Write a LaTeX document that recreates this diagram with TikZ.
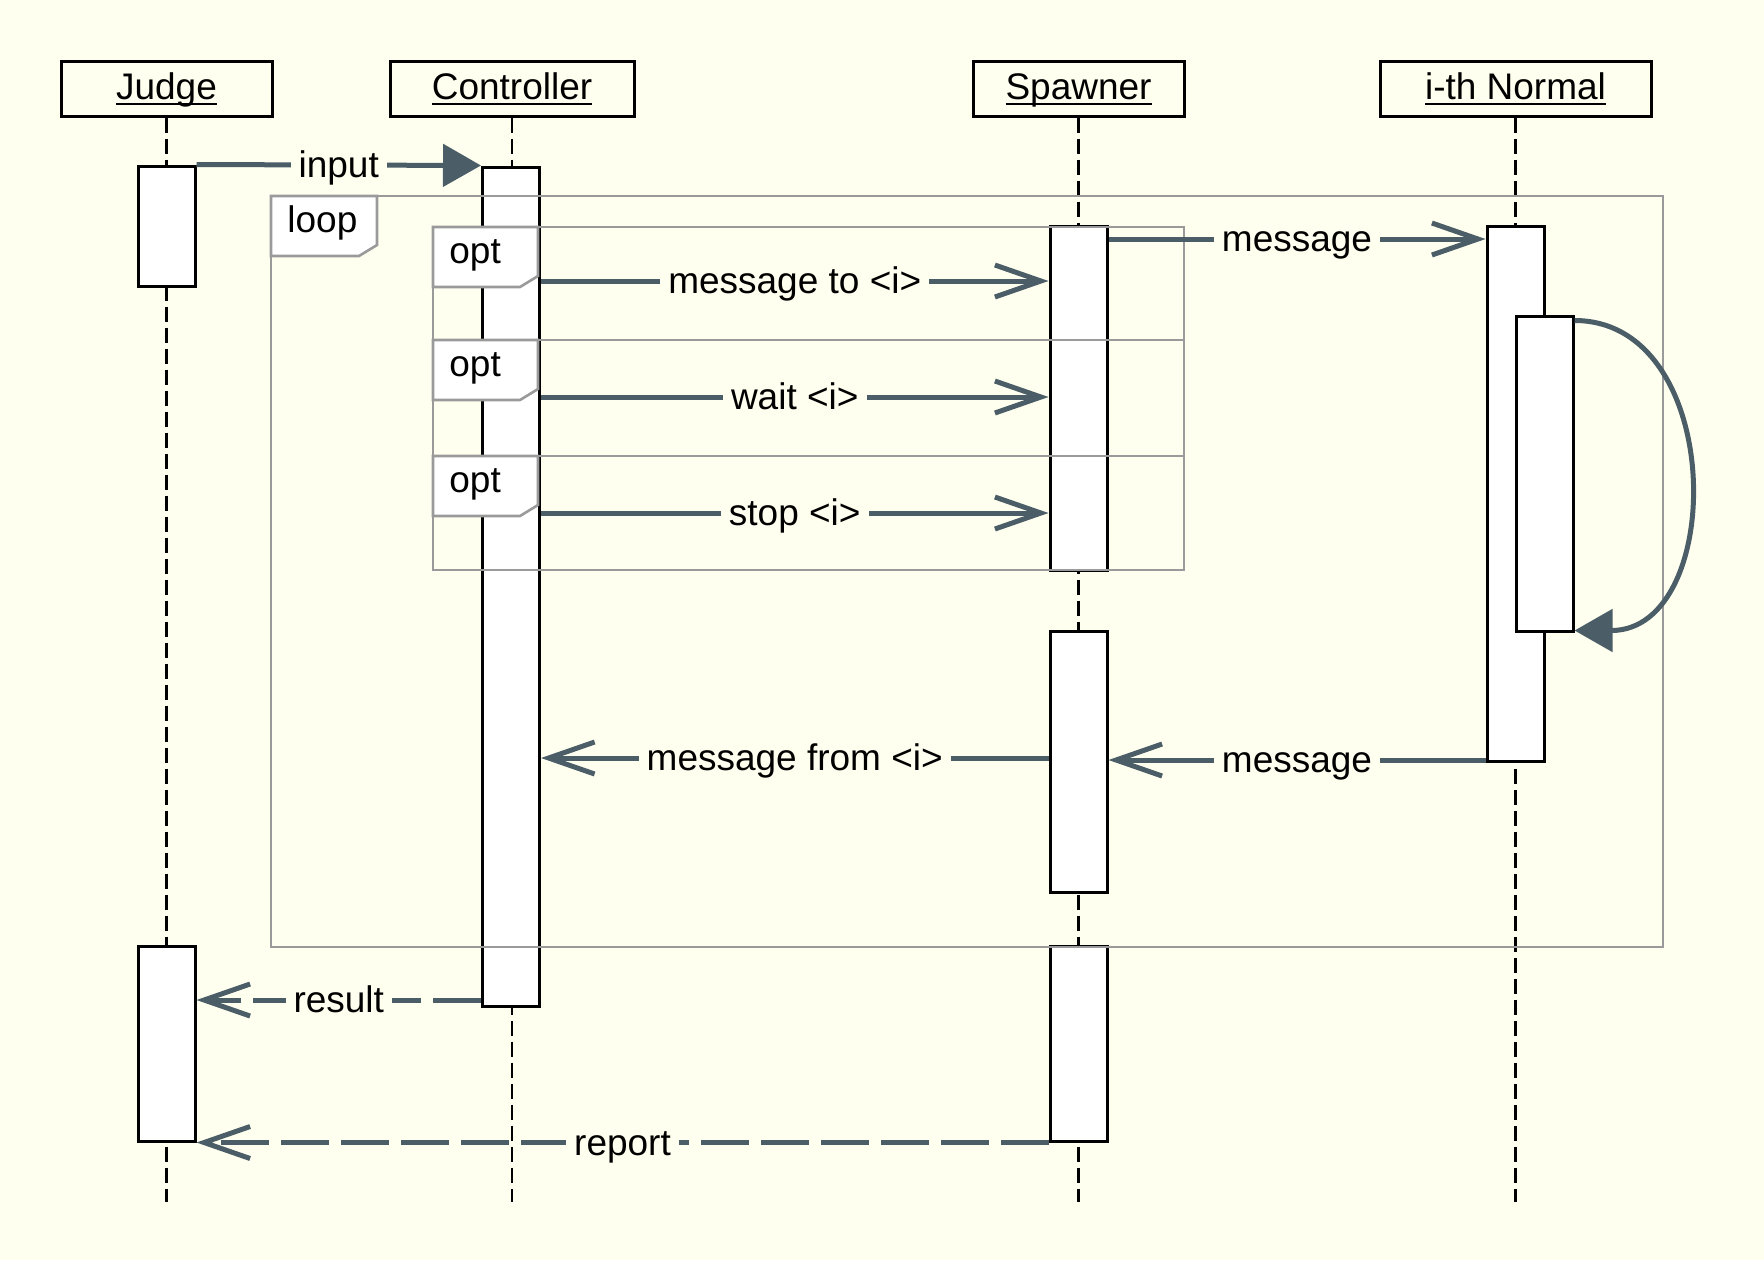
\documentclass[tikz,border=0pt]{standalone}
\usepackage{fontspec}
\setmainfont{Liberation Sans}
\usetikzlibrary{arrows.meta}
\definecolor{bg}{RGB}{255,255,240}
\definecolor{slate}{RGB}{75,94,104}
\definecolor{framegray}{RGB}{154,154,154}
\newcommand{\seqfont}{\fontsize{18.5}{22}\selectfont}
% underline that runs through the descenders, as in the original
\newcommand{\ulabel}[1]{\setbox0\hbox{#1}\rlap{\rule[-0.17em]{\wd0}{0.07em}}\box0}

\begin{document}
\begin{tikzpicture}[x=0.5pt, y=-0.5pt,
	actor/.style={draw=black, line width=1.5pt, minimum height=27.5pt, inner sep=0pt, font=\seqfont, text height=16pt, text depth=5.5pt},
	act/.style={draw=black, fill=white, line width=1.5pt, minimum width=28.5pt, inner sep=0pt},
	lifeline/.style={draw=black, line width=1.1pt, dash pattern=on 7.5pt off 3pt},
	frame/.style={draw=framegray, line width=1.3pt},
	tab/.style={frame, fill=white},
	msg/.style={draw=slate, line width=2.5pt, -{Straight Barb[length=23pt,width=16pt]}},
	reply/.style={msg, dash pattern=on 24pt off 6pt},
	call/.style={draw=slate, line width=2.5pt, -{Triangle[length=19pt,width=21pt]}},
	lbl/.style={fill=bg, inner xsep=4pt, inner ysep=0pt, font=\seqfont, text height=17pt, text depth=4.4pt}]
	\fill[bg] (0,0) rectangle (1764,1260);
	\useasboundingbox (0,0) rectangle (1764,1260);
	% participants
	\node[actor, minimum width=105.5pt] (judge) at (166.5,88.5) {\ulabel{Judge}};
	\node[actor, minimum width=122pt] (ctrl) at (512,88.5) {\ulabel{Controller}};
	\node[actor, minimum width=105.5pt] (spawn) at (1078.5,88.5) {\ulabel{Spawner}};
	\node[actor, minimum width=135.5pt] (normal) at (1515.5,88.5) {\ulabel{i-th Normal}};
	\coordinate (bottom) at (0,1202);
	\draw[lifeline] (judge) -- (judge |- bottom);
	\draw[lifeline] (ctrl) -- (ctrl |- bottom);
	\draw[lifeline] (spawn) -- (spawn |- bottom);
	\draw[lifeline] (normal) -- (normal |- bottom);
	% activations
	\node[act, minimum height=60pt] (jA1) at (166.5,226) {};
	\node[act, minimum height=97.5pt] (jA2) at (166.5,1043.5) {};
	\node[act, minimum height=419.5pt] (cA) at (511,586.5) {};
	\node[act, minimum height=172pt] (sA1) at (1078.5,398) {};
	\node[act, minimum height=130.5pt] (sA2) at (1078.5,761.5) {};
	\node[act, minimum height=97.5pt] (sA3) at (1078.5,1043.5) {};
	\node[act, minimum height=267.5pt] (nA) at (1515.5,493.5) {};
	\node[act, minimum height=157.5pt] (nB) at (1544.5,473.5) {};
	% frames
	\draw[frame] (271,196) rectangle (1663,947);
	\draw[tab] (271,196) -- (377,196) -- (377,245) -- (359,256) -- (271,256) -- cycle;
	\node[font=\seqfont, anchor=base west, inner sep=0pt] (loop) at (287,232) {loop};
	\foreach \ya/\yb [count=\i] in {227/340, 340/456, 456/570} {
		\draw[frame] (433,\ya) rectangle (1184,\yb);
		\draw[tab] (433,\ya) -- (538,\ya) -- (538,\ya+49) -- (520,\ya+60) -- (433,\ya+60) -- cycle;
		\node[font=\seqfont, anchor=base west, inner sep=0pt] (opt\i) at (449,\ya+36) {opt};
	}
	% messages
	\coordinate (lvMsg) at (0,239);
	\coordinate (lvTo) at (0,281);
	\coordinate (lvWait) at (0,397);
	\coordinate (lvStop) at (0,513);
	\coordinate (lvFrom) at (0,758);
	\coordinate (lvBack) at (0,760);
	\coordinate (lvRes) at (0,1000);
	\draw[call] (jA1.north east) -- node[lbl] (input) {input} (cA.north west);
	\draw[msg] (sA1.east |- lvMsg) -- node[lbl] (msgOut) {message} (nA.west |- lvMsg);
	\draw[msg] (cA.east |- lvTo) -- node[lbl] (msgTo) {message to <i>} (sA1.west |- lvTo);
	\draw[msg] (cA.east |- lvWait) -- node[lbl] (wait) {wait <i>} (sA1.west |- lvWait);
	\draw[msg] (cA.east |- lvStop) -- node[lbl] (stop) {stop <i>} (sA1.west |- lvStop);
	\draw[call] ([yshift=-3pt]nB.north east) .. controls +(152,0) and +(152,0) .. ([yshift=1pt]nB.south east);
	\draw[msg] (nA.west |- lvBack) -- node[lbl] (msgBack) {message} (sA2.east |- lvBack);
	\draw[msg] (sA2.west |- lvFrom) -- node[lbl] (msgFrom) {message from <i>} (cA.east |- lvFrom);
	\draw[reply] (cA.west |- lvRes) -- node[lbl] (result) {result} (jA2.east |- lvRes);
	\draw[reply] (sA3.south west) -- node[lbl] (report) {report} (jA2.south east);
\end{tikzpicture}
\end{document}
